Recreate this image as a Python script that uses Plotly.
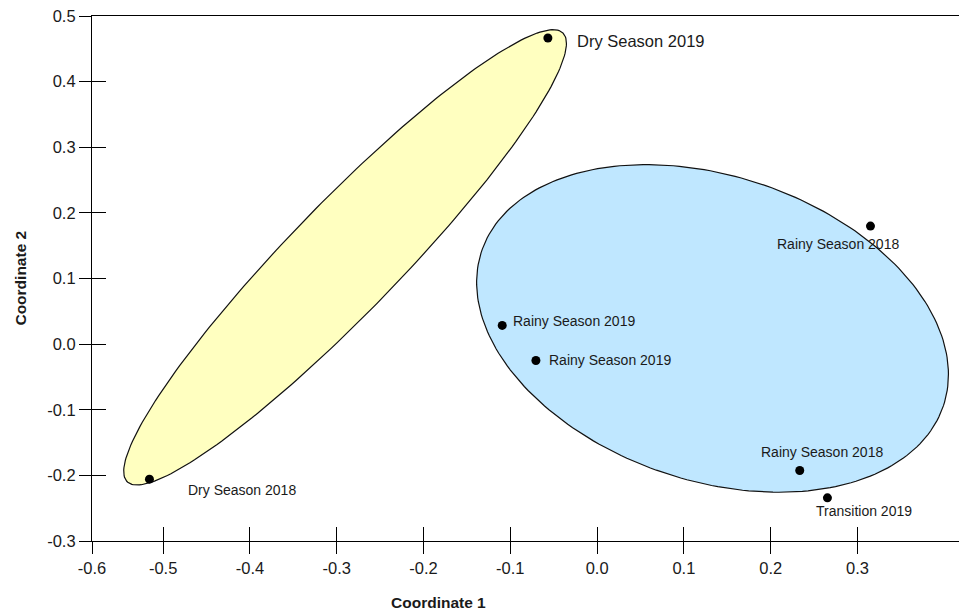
import numpy as np
import plotly.graph_objects as go

# ── data ─────────────────────────────────────────────────────────────────────
labels = ["Dry Season 2019", "Dry Season 2018", "Rainy Season 2019", "Rainy Season 2019",
          "Rainy Season 2018", "Rainy Season 2018", "Transition 2019"]
coord1 = [-0.0567, -0.5158, -0.1093, -0.0705, 0.3150, 0.2335, 0.2654]
coord2 = [0.4665, -0.2058, 0.0285, -0.0249, 0.1799, -0.1925, -0.2342]

# group ellipses: centre, half-axis vectors (data units)
dry_center = [-0.2904, 0.1322]
dry_axis_u = [0.2510, 0.3420]
dry_axis_v = [0.0454, -0.0584]
rainy_center = [0.1330, 0.0239]
rainy_axis_u = [0.2660, -0.1180]
rainy_axis_v = [-0.0560, -0.2200]

x_range = [-0.582, 0.417]
x_tickvals = [x_range[0], -0.5, -0.4, -0.3, -0.2, -0.1, 0.0, 0.1, 0.2, 0.3]
x_ticktext = ["-0.6", "-0.5", "-0.4", "-0.3", "-0.2", "-0.1", "0.0", "0.1", "0.2", "0.3"]
y_range = [-0.3, 0.5]
y_tickvals = [-0.3, -0.2, -0.1, 0.0, 0.1, 0.2, 0.3, 0.4, 0.5]
y_ticktext = ["-0.3", "-0.2", "-0.1", "0.0", "0.1", "0.2", "0.3", "0.4", "0.5"]

FONT = "Liberation Sans, Arial, sans-serif"
INK = "#1a1a1a"


def ellipse(c, u, v, n=240):
    t = np.linspace(0, 2 * np.pi, n)
    x = c[0] + u[0] * np.cos(t) + v[0] * np.sin(t)
    y = c[1] + u[1] * np.cos(t) + v[1] * np.sin(t)
    return x, y


fig = go.Figure()

for c, u, v, fill in [(dry_center, dry_axis_u, dry_axis_v, "#ffffc0"),
                      (rainy_center, rainy_axis_u, rainy_axis_v, "#bfe7ff")]:
    ex, ey = ellipse(c, u, v)
    fig.add_trace(go.Scatter(x=ex, y=ey, mode="lines", fill="toself",
                             fillcolor=fill, line=dict(color="#111", width=1.2),
                             hoverinfo="skip", showlegend=False))

fig.add_trace(go.Scatter(x=coord1, y=coord2, mode="markers",
                         marker=dict(color="black", size=9),
                         text=labels, hovertemplate="%{text}<extra></extra>",
                         showlegend=False))

# invisible trace for the overlay axes (inner half of the crossing ticks)
fig.add_trace(go.Scatter(x=[coord1[0]], y=[coord2[0]], xaxis="x2", yaxis="y2",
                         mode="markers", marker=dict(opacity=0),
                         hoverinfo="skip", showlegend=False))

# label offsets (px) from each point: xanchor, xshift, yshift, font size
label_style = [("left", 27, -3, 16.5), ("left", 37, -11, 14), ("left", 9, 4, 14),
               ("left", 11, 0, 14), ("center", -32, -18, 14), ("center", 22, 18, 14),
               ("center", 37, -13, 14)]
for lab, x, y, (anc, dx, dy, fs) in zip(labels, coord1, coord2, label_style):
    fig.add_annotation(x=x, y=y, text=lab, showarrow=False, xanchor=anc,
                       yanchor="middle", xshift=dx, yshift=dy,
                       font=dict(family=FONT, size=fs, color=INK))

tick_style = dict(showgrid=False, zeroline=False, tickcolor="black", tickwidth=1.2)
fig.update_layout(
    width=959, height=612,
    margin=dict(l=92, r=0, t=16, b=71),
    paper_bgcolor="white", plot_bgcolor="white",
    font=dict(family=FONT, size=16.5, color=INK),
    xaxis=dict(range=x_range, tickvals=x_tickvals, ticktext=x_ticktext,
               ticks="outside", ticklen=12, showline=True, mirror=True,
               ticklabeloverflow="allow",
               linecolor="black", linewidth=1.2, **tick_style),
    yaxis=dict(range=y_range, tickvals=y_tickvals, ticktext=y_ticktext,
               ticks="outside", ticklen=12, showline=True,
               ticklabeloverflow="allow",
               linecolor="black", linewidth=1.2, **tick_style),
    xaxis2=dict(range=x_range, tickvals=x_tickvals, overlaying="x", anchor="y2",
                ticks="inside", ticklen=14, showticklabels=False, showline=False,
                **tick_style),
    yaxis2=dict(range=y_range, tickvals=y_tickvals, overlaying="y", anchor="x2",
                ticks="inside", ticklen=14, showticklabels=False, showline=False,
                **tick_style),
    annotations=list(fig.layout.annotations) + [
        dict(text="<b>Coordinate 1</b>", xref="paper", yref="paper", x=0.4,
             y=-0.118, xanchor="center", yanchor="middle", showarrow=False,
             font=dict(family=FONT, size=15.5, color=INK)),
        dict(text="<b>Coordinate 2</b>", xref="paper", yref="paper", x=-0.083,
             y=0.5, xanchor="center", yanchor="middle", showarrow=False,
             textangle=-90, font=dict(family=FONT, size=15.5, color=INK)),
    ],
)

# drop the default 8px page margin so the figure fills the window exactly
fig.write_html("out.html", config={"displayModeBar": False},
               post_script="document.body.style.margin='0';"
                           "document.documentElement.style.overflow='hidden';")
